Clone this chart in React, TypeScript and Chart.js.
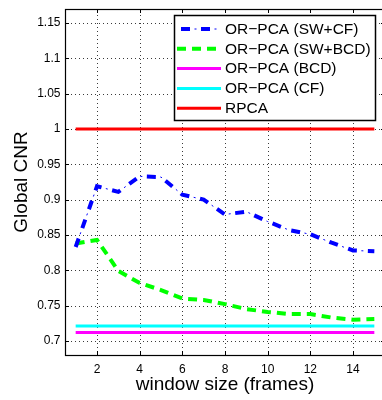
import React, { useEffect, useRef } from 'react';
import { Chart, registerables } from 'chart.js';

Chart.register(...registerables);

const windowSizes = [1, 2, 3, 4, 5, 6, 7, 8, 9, 10, 11, 12, 13, 14, 15];
const swCf = [0.833, 0.919, 0.911, 0.933, 0.932, 0.907, 0.900, 0.879, 0.883, 0.869, 0.857, 0.851, 0.839, 0.828, 0.827];
const swBcd = [0.838, 0.843, 0.799, 0.782, 0.772, 0.760, 0.758, 0.752, 0.745, 0.741, 0.738, 0.738, 0.733, 0.730, 0.731];
const bcd = [0.712, 0.712, 0.712, 0.712, 0.712, 0.712, 0.712, 0.712, 0.712, 0.712, 0.712, 0.712, 0.712, 0.712, 0.712];
const cf = [0.721, 0.721, 0.721, 0.721, 0.721, 0.721, 0.721, 0.721, 0.721, 0.721, 0.721, 0.721, 0.721, 0.721, 0.721];
const rpca = [1.0, 1.0, 1.0, 1.0, 1.0, 1.0, 1.0, 1.0, 1.0, 1.0, 1.0, 1.0, 1.0, 1.0, 1.0];

const seriesNames = ['OR\u2212PCA (SW+CF)', 'OR\u2212PCA (SW+BCD)', 'OR\u2212PCA (BCD)', 'OR\u2212PCA (CF)', 'RPCA'];
const xTicks = [2, 4, 6, 8, 10, 12, 14];
const yTicks = [0.7, 0.75, 0.8, 0.85, 0.9, 0.95, 1.0, 1.05, 1.1, 1.15];
const xTitle = 'window size (frames)';
const yTitle = 'Global CNR';

const FONT = '"Liberation Sans", Arial, Helvetica, sans-serif';

type Style = { color: string; width: number; dash: number[]; thin?: boolean };
const styles: Style[] = [
  { color: '#0000ff', width: 4, dash: [9, 11], thin: true },
  { color: '#00ff00', width: 4, dash: [9, 6] },
  { color: '#ff00ff', width: 3, dash: [] },
  { color: '#00ffff', width: 3, dash: [] },
  { color: '#ff0000', width: 3, dash: [] },
];

const toPts = (ys: number[]) => ys.map((y, i) => ({ x: windowSizes[i], y }));

function drawDotted(ctx: CanvasRenderingContext2D, x0: number, y0: number, x1: number, y1: number) {
  // dotted line as individual 1px dots every 4px
  const len = Math.hypot(x1 - x0, y1 - y0);
  const n = Math.floor(len / 4);
  for (let k = 0; k <= n; k++) {
    const t = (k * 4) / len;
    const x = Math.round(x0 + (x1 - x0) * t);
    const y = Math.round(y0 + (y1 - y0) * t);
    ctx.fillRect(x, y, 1, 1);
  }
}

const framePlugin = {
  id: 'frameAndLegend',
  beforeDatasetsDraw(chart: any) {
    const { ctx, chartArea: a, scales } = chart;
    ctx.save();
    ctx.fillStyle = '#3a3a3a';
    for (const v of xTicks) {
      const px = Math.round(scales.x.getPixelForValue(v));
      drawDotted(ctx, px, a.top + 2, px, a.bottom);
    }
    for (const v of yTicks) {
      const py = Math.round(scales.y.getPixelForValue(v));
      drawDotted(ctx, a.left + 2, py, a.right, py);
    }
    ctx.restore();
  },
  afterDraw(chart: any) {
    const { ctx, chartArea: a, scales } = chart;
    ctx.save();
    // inside ticks
    ctx.strokeStyle = '#000';
    ctx.lineWidth = 1;
    ctx.setLineDash([]);
    const tl = 4;
    for (const v of xTicks) {
      const px = Math.round(scales.x.getPixelForValue(v)) + 0.5;
      ctx.beginPath();
      ctx.moveTo(px, a.bottom);
      ctx.lineTo(px, a.bottom - tl);
      ctx.moveTo(px, a.top);
      ctx.lineTo(px, a.top + tl);
      ctx.stroke();
    }
    for (const v of yTicks) {
      const py = Math.round(scales.y.getPixelForValue(v)) + 0.5;
      ctx.beginPath();
      ctx.moveTo(a.left, py);
      ctx.lineTo(a.left + tl, py);
      ctx.moveTo(a.right, py);
      ctx.lineTo(a.right - tl, py);
      ctx.stroke();
    }
    // frame
    ctx.lineWidth = 1.2;
    ctx.strokeRect(Math.round(a.left) + 0.5, Math.round(a.top) + 0.5, Math.round(a.right - a.left), Math.round(a.bottom - a.top));

    // legend
    const lx = 174.5, ly = 15.5, lw = 201, lh = 105;
    ctx.fillStyle = '#fff';
    ctx.fillRect(lx, ly, lw, lh);
    ctx.lineWidth = 1.5;
    ctx.strokeStyle = '#000';
    ctx.strokeRect(lx, ly, lw, lh);
    ctx.font = `15.5px ${FONT}`;
    ctx.textBaseline = 'middle';
    ctx.textAlign = 'left';
    seriesNames.forEach((name, i) => {
      const y = ly + 13.5 + i * 19.8;
      const st = styles[i];
      ctx.strokeStyle = st.color;
      ctx.lineWidth = st.width;
      ctx.lineCap = 'butt';
      ctx.setLineDash(st.dash);
      ctx.lineDashOffset = st.thin ? -4 : 0;
      ctx.beginPath();
      ctx.moveTo(177, y);
      ctx.lineTo(221, y);
      ctx.stroke();
      if (st.thin) {
        ctx.lineWidth = 1;
        ctx.setLineDash([2, 18]);
        ctx.lineDashOffset = 2.5;
        ctx.beginPath();
        ctx.moveTo(177, y);
        ctx.lineTo(221, y);
        ctx.stroke();
      }
      ctx.setLineDash([]);
      ctx.lineDashOffset = 0;
      ctx.fillStyle = '#000';
      ctx.fillText(name, 225, y + 0.5);
    });
    ctx.restore();
  },
};

export default function App() {
  const ref = useRef<HTMLCanvasElement | null>(null);
  useEffect(() => {
    if (!ref.current) return;
    const mk = (data: number[], st: Style, extra: any = {}) => ({
      data: toPts(data),
      borderColor: st.color,
      borderWidth: st.width,
      borderDash: st.dash,
      pointRadius: 0,
      tension: 0,
      fill: false,
      borderCapStyle: 'butt',
      ...extra,
    });
    const chart = new Chart(ref.current, {
      type: 'line',
      data: {
        datasets: [
          { label: seriesNames[0], ...mk(swCf, styles[0]) },
          { label: seriesNames[0] + ' thin', ...mk(swCf, { color: '#0000ff', width: 1, dash: [2, 18] }, { borderDashOffset: 6.5 }) },
          { label: seriesNames[1], ...mk(swBcd, styles[1]) },
          { label: seriesNames[2], ...mk(bcd, styles[2]) },
          { label: seriesNames[3], ...mk(cf, styles[3]) },
          { label: seriesNames[4], ...mk(rpca, styles[4]) },
        ],
      },
      options: {
        responsive: false,
        animation: false,
        devicePixelRatio: 1,
        layout: { padding: { top: 9, right: 7, bottom: 0, left: 0 } },
        plugins: { legend: { display: false }, tooltip: { enabled: false } },
        scales: {
          x: {
            type: 'linear',
            min: 0.5,
            max: 15.5,
            afterBuildTicks: (s: any) => { s.ticks = xTicks.map((v) => ({ value: v })); },
            afterFit: (s: any) => { s.height = 45; s.paddingLeft = 0; s.paddingRight = 0; },
            grid: { display: false, drawTicks: false },
            border: { display: false },
            ticks: { color: '#000', padding: 7, font: { family: FONT, size: 12 }, maxRotation: 0, callback: (v: any) => String(v) },
            title: { display: true, text: xTitle, color: '#000', font: { family: FONT, size: 19 }, padding: { top: 0, bottom: 4 } },
          },
          y: {
            type: 'linear',
            min: 0.68,
            max: 1.17,
            afterBuildTicks: (s: any) => { s.ticks = yTicks.map((v) => ({ value: v })); },
            afterFit: (s: any) => { s.width = 65; s.paddingTop = 0; s.paddingBottom = 0; },
            grid: { display: false, drawTicks: false },
            border: { display: false },
            ticks: { color: '#000', padding: 4.5, font: { family: FONT, size: 12 }, callback: (v: any) => String(Number(Number(v).toFixed(2))) },
            title: { display: true, text: yTitle, color: '#000', font: { family: FONT, size: 19 }, padding: { top: 10, bottom: 0 } },
          },
        },
      },
      plugins: [framePlugin],
    } as any);
    return () => chart.destroy();
  }, []);
  return (
    <div style={{ position: 'fixed', left: 0, top: 0, width: 382, height: 400, overflow: 'hidden', background: '#fff' }}>
      <canvas ref={ref} width={392} height={400} style={{ display: 'block', width: 392, height: 400 }} />
    </div>
  );
}
